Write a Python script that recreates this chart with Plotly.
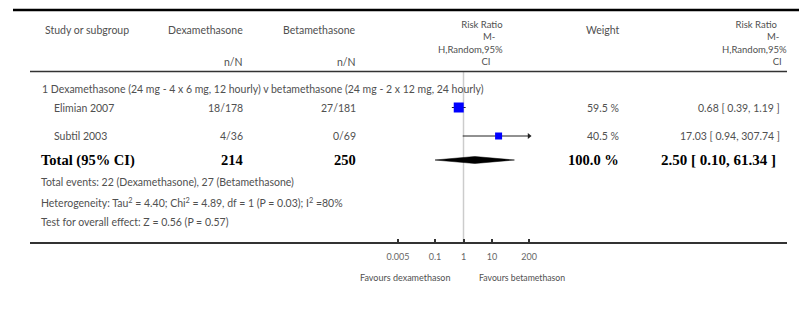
import plotly.graph_objects as go

# ---------------- data ----------------
studies = ["Elimian 2007", "Subtil 2003"]
dexa_events = [18, 4]
dexa_total = [178, 36]
beta_events = [27, 0]
beta_total = [181, 69]
weights = [59.5, 40.5]
rr = [0.68, 17.03]
rr_lo = [0.39, 0.94]
rr_hi = [1.19, 307.74]

total_dexa_n = 214
total_beta_n = 250
total_weight = 100.0
total_rr = 2.50
total_lo = 0.10
total_hi = 61.34
total_dexa_events = 22
total_beta_events = 27

subgroup_title = "1 Dexamethasone (24 mg - 4 x 6 mg, 12 hourly) v betamethasone (24 mg - 2 x 12 mg, 24 hourly)"
heterogeneity = "Heterogeneity: Tau<sup>2</sup> = 4.40; Chi<sup>2</sup> = 4.89, df = 1 (P = 0.03); I<sup>2</sup> =80%"
overall_test = "Test for overall effect: Z = 0.56 (P = 0.57)"
rr_header_lines = ["Risk Ratio", "M-", "H,Random,95%", "CI"]

tick_vals = [0.005, 0.1, 1, 10, 200]
tick_text = ["0.005", "0.1", "1", "10", "200"]
axis_min, axis_max = 0.005, 200
favours_left = "Favours dexamethason"
favours_right = "Favours betamethason"

# ---------------- layout constants ----------------
W, H = 799, 311
X_ONE = 463.5        # pixel of RR=1
PX_DEC = 28.5        # pixels per decade
xrange_log = [(0 - X_ONE) / PX_DEC, (W - X_ONE) / PX_DEC]

row_y = {"study": [107.5, 136], "total": 160}
SANS = "Lato, 'Open Sans', sans-serif"
SERIF = "'Liberation Serif', 'Times New Roman', serif"
GRAY = "#505050"
FS = 10.5
square_sizes = [10, 7]

def px(x):
    return x / W

fig = go.Figure()

# CI lines and squares
for i in range(len(studies)):
    lo = max(rr_lo[i], axis_min)
    hi = min(rr_hi[i], axis_max)
    y = row_y["study"][i]
    fig.add_trace(go.Scatter(x=[lo, hi], y=[y, y], mode="lines",
                             line=dict(color="#222", width=1), hoverinfo="skip", showlegend=False))
    if rr_hi[i] > axis_max:
        fig.add_trace(go.Scatter(x=[axis_max], y=[y], mode="markers",
                                 marker=dict(symbol="triangle-right", size=5, color="#222"),
                                 hoverinfo="skip", showlegend=False))
    fig.add_trace(go.Scatter(x=[rr[i]], y=[y], mode="markers",
                             marker=dict(symbol="square", size=square_sizes[i], color="#0000ff",
                                         line=dict(width=0)),
                             hoverinfo="skip", showlegend=False))

# diamond
ty = row_y["total"]
dh = 3.5
fig.add_trace(go.Scatter(x=[total_lo, total_rr, total_hi, total_rr, total_lo],
                         y=[ty, ty - dh, ty, ty + dh, ty], mode="lines", fill="toself",
                         fillcolor="black", line=dict(color="black", width=0.5),
                         hoverinfo="skip", showlegend=False))

annotations = []

def txt(x, y, s, anchor="left", size=FS, color=GRAY, family=SANS, bold=False, align="left"):
    if bold:
        s = "<b>" + s + "</b>"
    annotations.append(dict(x=px(x), y=y, xref="paper", yref="y", text=s, showarrow=False,
                            xanchor=anchor, yanchor="middle", align=align,
                            font=dict(family=family, size=size, color=color)))

# header
txt(43, 30, "Study or subgroup")
txt(245, 30, "Dexamethasone", "right")
txt(358, 30, "Betamethasone", "right")
txt(245, 62, "n/N", "right")
txt(358, 62, "n/N", "right")
txt(622, 30, "Weight", "right")

NB = "&nbsp;"
def rr_header(pads):
    return "<br>".join(line + NB * p for line, p in zip(rr_header_lines, pads))

txt(505, 43, rr_header([0, 3, 0, 5]), "right", size=9.5, align="right")
txt(789, 43, rr_header([4, 3, 0, 2]), "right", size=9.5, align="right")

txt(40, 89, subgroup_title)

for i, name in enumerate(studies):
    y = row_y["study"][i]
    txt(52, y, name)
    txt(245, y, f"{dexa_events[i]}/{dexa_total[i]}", "right")
    txt(358, y, f"{beta_events[i]}/{beta_total[i]}", "right")
    txt(621, y, f"{weights[i]:.1f} %", "right")
    txt(782, y, f"{rr[i]:.2f} [ {rr_lo[i]:.2f}, {rr_hi[i]:.2f} ]", "right")

BS = 14.5
txt(39, ty, "Total (95% CI)", size=BS, color="black", family=SERIF, bold=True)
txt(245, ty, str(total_dexa_n), "right", size=BS, color="black", family=SERIF, bold=True)
txt(358, ty, str(total_beta_n), "right", size=BS, color="black", family=SERIF, bold=True)
txt(621, ty, f"{total_weight:.1f} %", "right", size=BS, color="black", family=SERIF, bold=True)
txt(778, ty, f"{total_rr:.2f} [ {total_lo:.2f}, {total_hi:.2f} ]", "right", size=15,
    color="black", family=SERIF, bold=True)

txt(39, 182, f"Total events: {total_dexa_events} (Dexamethasone), {total_beta_events} (Betamethasone)")
txt(39, 202.5, heterogeneity)
txt(39, 221.5, overall_test)

txt(452, 277, favours_left, "right", size=9)
txt(477, 277, favours_right, "left", size=8.7)

shapes = [
    dict(type="line", xref="paper", yref="y", x0=px(13), x1=1, y0=10, y1=10,
         line=dict(color="black", width=2.5)),
    dict(type="line", xref="paper", yref="y", x0=px(30), x1=px(787), y0=71.5, y1=71.5,
         line=dict(color="#333", width=1.5)),
    dict(type="line", xref="paper", yref="y", x0=px(30), x1=px(787), y0=243, y1=243,
         line=dict(color="#333", width=2)),
    dict(type="line", xref="x", yref="y", x0=1, x1=1, y0=72, y1=243,
         line=dict(color="#cccccc", width=1.5), layer="below"),
]

fig.update_layout(
    width=W, height=H, margin=dict(l=0, r=0, t=0, b=0, autoexpand=False),
    paper_bgcolor="white", plot_bgcolor="white",
    showlegend=False, annotations=annotations, shapes=shapes,
    xaxis=dict(type="log", range=xrange_log, tickvals=tick_vals, ticktext=tick_text,
               showgrid=False, zeroline=False, showline=False, automargin=False,
               ticks="inside", ticklen=4, tickwidth=1.5, tickcolor="#333",
               anchor="free", position=(H - 243) / H,
               tickfont=dict(family=SANS, size=9, color="#666"), ticklabelstandoff=7),
    yaxis=dict(range=[H, 0], visible=False, showgrid=False, zeroline=False, automargin=False),
)

fig.write_html("out.html", config={"displayModeBar": False},
               post_script="document.body.style.margin='0';document.body.style.overflow='hidden';")
